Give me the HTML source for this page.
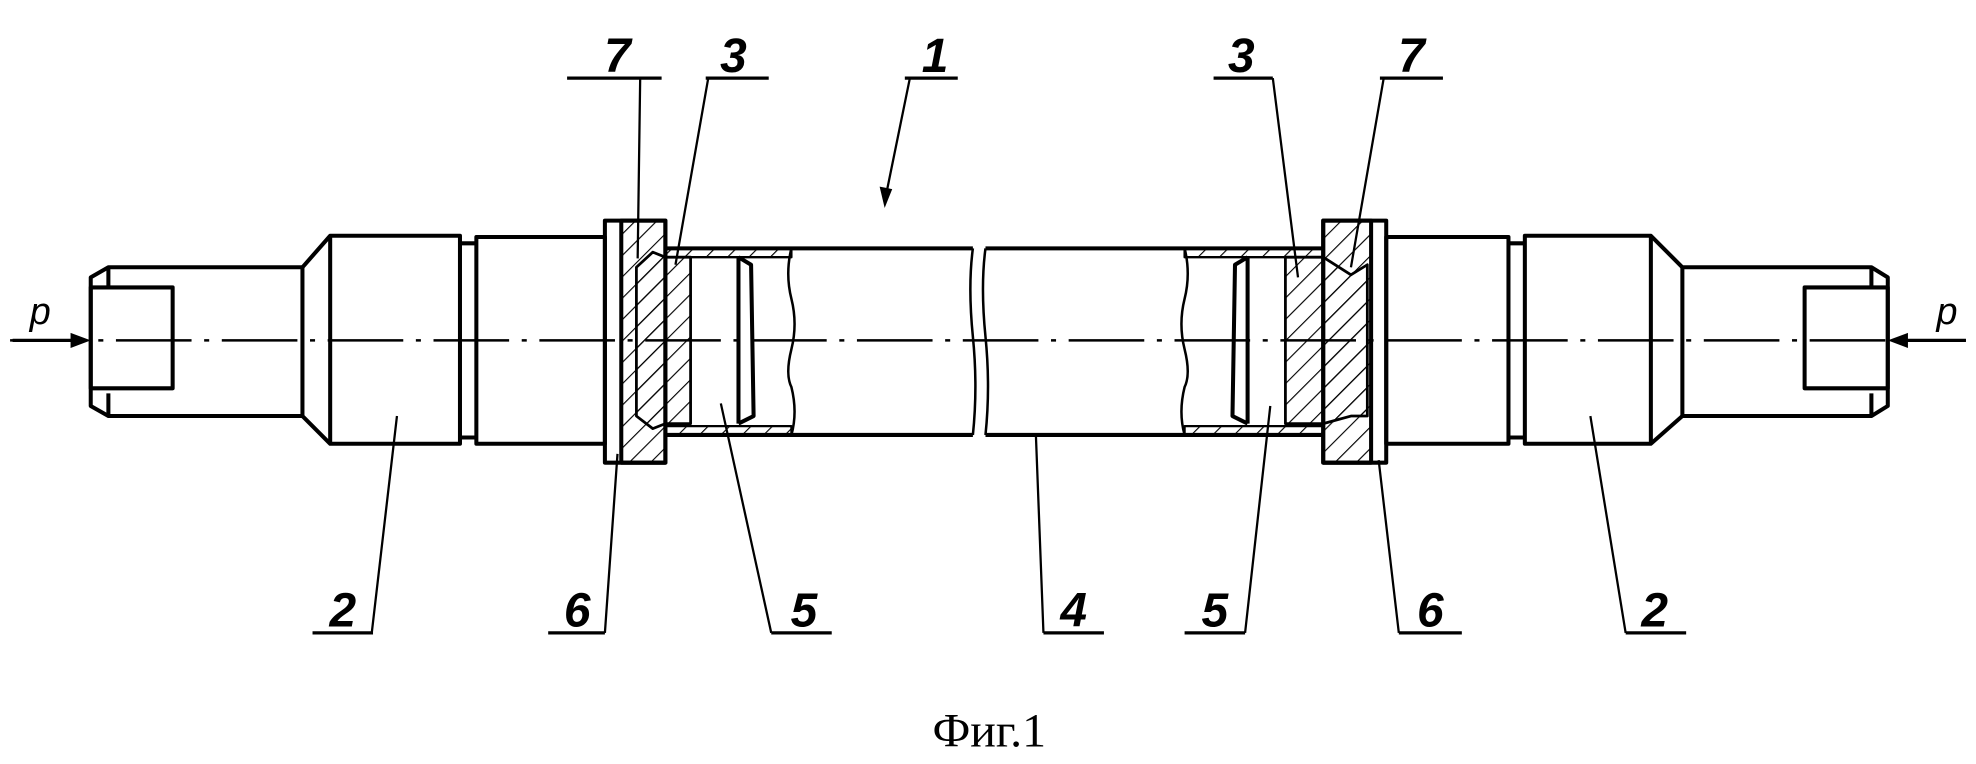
<!DOCTYPE html>
<html><head><meta charset="utf-8"><style>html,body{margin:0;padding:0;background:#fff}svg{display:block}</style></head>
<body>
<svg width="1976" height="764" viewBox="0 0 1568 606" preserveAspectRatio="none" xmlns="http://www.w3.org/2000/svg">
<defs>
<pattern id="h" patternUnits="userSpaceOnUse" width="12" height="12" patternTransform="rotate(45)">
<line x1="0" y1="0" x2="0" y2="12" stroke="#000" stroke-width="1.8"/>
</pattern>
</defs>
<g fill="none" stroke="#000" stroke-width="3.2" stroke-linejoin="round">
<line x1="8" y1="270" x2="1560" y2="270" stroke-width="2" stroke-dasharray="60 10 4 10"/>
<path d="M86,212 L240,212 L240,330 L86,330 L72,322 L72,220 Z"/>
<path d="M86,212 L86,228 M86,330 L86,312"/>
<rect x="72" y="228" width="65" height="80"/>
<path d="M240,212 L262,187 L365,187 L365,352 L262,352 L240,330"/>
<line x1="262" y1="187" x2="262" y2="352"/>
<path d="M365,193 L378,193 M365,347 L378,347"/>
<rect x="378" y="188" width="102" height="164"/>
<rect x="493" y="175" width="35" height="192" fill="url(#h)"/>
<rect x="480" y="175" width="48" height="192"/>
<line x1="493" y1="175" x2="493" y2="367" stroke-width="2"/>
<path d="M528,197 L772,197 M528,345 L772,345"/>
<rect x="528" y="197" width="100" height="7" fill="url(#h)" stroke-width="1.8"/>
<rect x="528" y="338" width="100" height="7" fill="url(#h)" stroke-width="1.8"/>
<path d="M505,212 L518,200 L528,204 L548,204 L548,336 L528,336 L518,340 L505,330 Z" fill="url(#h)" stroke-width="2.2"/>
<path d="M586,204 L596,210 L598,330 L586,336 M586,204 L586,336"/>
<path d="M628,197 q-5,20 0,40 q5,20 0,40 q-5,20 0,30 q5,20 0,38" stroke-width="2"/>
<path d="M772,197 q-4,30 0,70 q4,40 0,78 M782,197 q-4,30 0,70 q4,40 0,78" stroke-width="2"/>
<path d="M782,197 L1050,197 M782,345 L1050,345"/>
<rect x="940" y="197" width="110" height="7" fill="url(#h)" stroke-width="1.8"/>
<rect x="940" y="338" width="110" height="7" fill="url(#h)" stroke-width="1.8"/>
<path d="M940,197 q5,20 0,40 q-5,20 0,40 q5,20 0,30 q-5,20 0,38" stroke-width="2"/>
<path d="M1020,204 L1050,204 L1072,218 L1085,210 L1085,330 L1072,330 L1050,336 L1020,336 Z" fill="url(#h)" stroke-width="2.2"/>
<path d="M990,204 L980,210 L978,330 L990,336 M990,204 L990,336"/>
<rect x="1050" y="175" width="38" height="192" fill="url(#h)"/>
<rect x="1050" y="175" width="50" height="192"/>
<line x1="1088" y1="175" x2="1088" y2="367" stroke-width="2"/>
<rect x="1100" y="188" width="97" height="164"/>
<path d="M1197,193 L1210,193 M1197,347 L1210,347"/>
<path d="M1210,187 L1310,187 L1335,212 L1485,212 L1498,220 L1498,322 L1485,330 L1335,330 L1310,352 L1210,352 Z"/>
<line x1="1310" y1="187" x2="1310" y2="352"/>
<line x1="1335" y1="212" x2="1335" y2="330"/>
<path d="M1485,212 L1485,228 M1485,330 L1485,312"/>
<rect x="1432" y="228" width="66" height="80"/>
<line x1="10" y1="270" x2="62" y2="270" stroke-width="2.6"/>
<line x1="1505" y1="270" x2="1560" y2="270" stroke-width="2.6"/>
</g>
<polygon points="72,270 56,264 56,276" fill="#000"/>
<polygon points="1498,270 1514,264 1514,276" fill="#000"/>
<g stroke="#000" stroke-width="1.8" fill="none">
<path d="M450,62 L525,62 M560,62 L610,62 M718,62 L760,62 M963,62 L1010,62 M1095,62 L1145,62" stroke-width="2.6"/>
<path d="M508,62 L506,205 M562,62 L536,210 M722,62 L702,160 M1010,62 L1030,220 M1098,62 L1072,212"/>
<path d="M248,502 L296,502 M435,502 L480,502 M612,502 L660,502 M828,502 L876,502 M940,502 L988,502 M1110,502 L1160,502 M1290,502 L1338,502" stroke-width="2.6"/>
<path d="M295,502 L315,330 M480,502 L490,360 M612,502 L572,320 M828,502 L822,345 M988,502 L1008,322 M1110,502 L1094,365 M1290,502 L1262,330"/>
</g>
<polygon points="702,165 698,148 708,150" fill="#000"/>
<g font-family="Liberation Sans, sans-serif" font-style="italic" font-weight="bold" font-size="38" text-anchor="middle" fill="#000">
<text x="490" y="57">7</text><text x="582" y="57">3</text><text x="742" y="57">1</text>
<text x="985" y="57">3</text><text x="1120" y="57">7</text>
<text x="272" y="497">2</text><text x="458" y="497">6</text><text x="638" y="497">5</text>
<text x="852" y="497">4</text><text x="964" y="497">5</text><text x="1135" y="497">6</text><text x="1313" y="497">2</text>
<text x="32" y="257" font-size="30" font-weight="normal">p</text><text x="1545" y="257" font-size="30" font-weight="normal">p</text>
</g>
<text x="785" y="592" font-family="Liberation Serif, serif" font-size="38" text-anchor="middle">Фиг.1</text>
</svg>
</body></html>
